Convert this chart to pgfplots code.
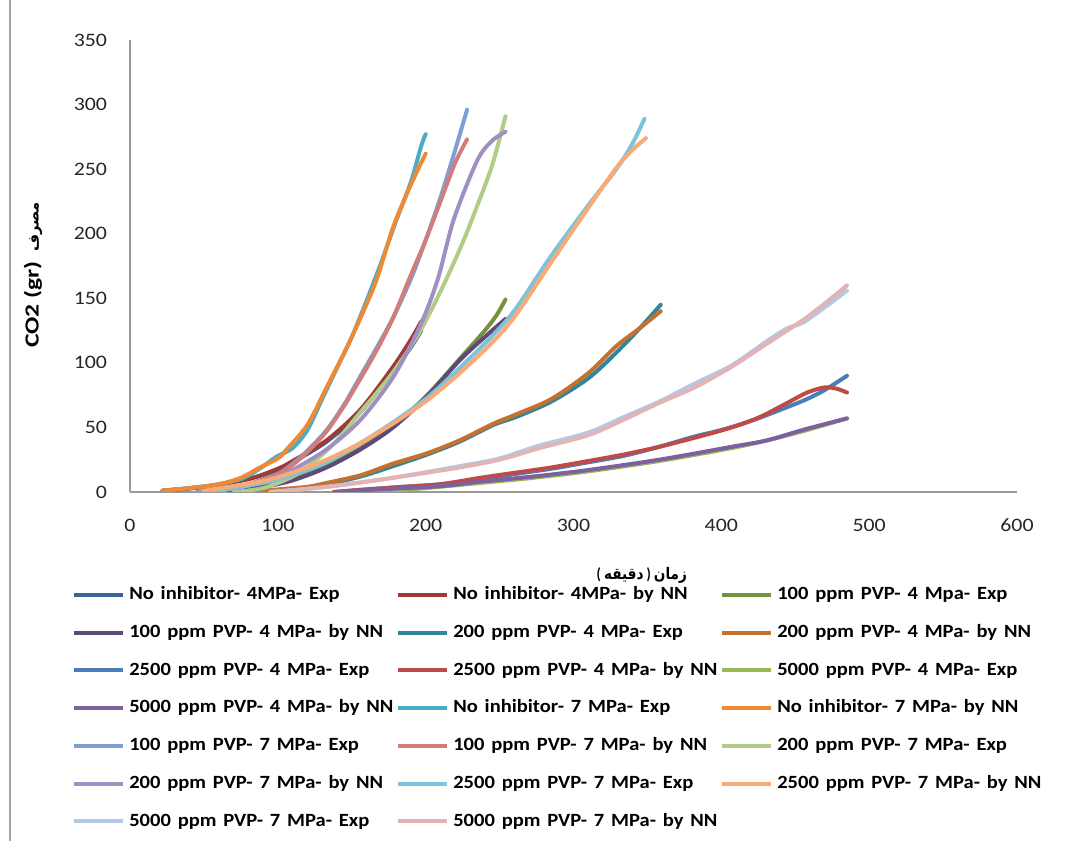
\documentclass[border=0pt]{standalone}
\usepackage{fontspec}
\usepackage{graphicx}
\usepackage{pgfplots}
\pgfplotsset{compat=1.18}
\TeXXeTstate=1
\setmainfont{Carlito}
\newfontfamily\arabicfont[Script=Arabic]{DejaVu Sans}
\newcommand\sx[1]{\scalebox{1.15}[1]{#1}}
\newcommand\lx[1]{\scalebox{1.1}[1]{#1}}
\newcommand\ar[1]{{\arabicfont\beginR #1\endR}}
\definecolor{c1}{HTML}{3A6498}
\definecolor{c2}{HTML}{9E3B38}
\definecolor{c3}{HTML}{76923C}
\definecolor{c4}{HTML}{5F497A}
\definecolor{c5}{HTML}{31859C}
\definecolor{c6}{HTML}{C4722E}
\definecolor{c7}{HTML}{4A7EBB}
\definecolor{c8}{HTML}{BE4B48}
\definecolor{c9}{HTML}{98B954}
\definecolor{c10}{HTML}{7D60A0}
\definecolor{c11}{HTML}{4BACC6}
\definecolor{c12}{HTML}{EE8A35}
\definecolor{c13}{HTML}{7E9FD0}
\definecolor{c14}{HTML}{D07D7B}
\definecolor{c15}{HTML}{B0CC86}
\definecolor{c16}{HTML}{A08FC2}
\definecolor{c17}{HTML}{7DC3D9}
\definecolor{c18}{HTML}{F9AA76}
\definecolor{c19}{HTML}{B4C7E4}
\definecolor{c20}{HTML}{E3B4B3}
\begin{document}
\begin{tikzpicture}
\useasboundingbox (0,0) rectangle (812.25pt,630.75pt);
\draw[black!35, line width=1pt] (7.5pt,0) -- (7.5pt,630.75pt);
\begin{axis}[
  scale only axis, width=665.25pt, height=339pt,
  at={(97.5pt,261.75pt)}, anchor=south west,
  xmin=0, xmax=600, ymin=0, ymax=350,
  axis x line*=bottom, axis y line*=left,
  axis line style={draw=black!40, line width=1pt},
  major tick length=0pt,
  xtick={0,100,200,300,400,500,600},
  xticklabels={\sx{0},\sx{100},\sx{200},\sx{300},\sx{400},\sx{500},\sx{600}},
  ytick={0,50,100,150,200,250,300,350},
  yticklabels={\sx{0},\sx{50},\sx{100},\sx{150},\sx{200},\sx{250},\sx{300},\sx{350}},
  tick label style={font=\fontsize{14.25}{16}\selectfont, text=black!85},
  xticklabel style={inner sep=0pt, yshift=-20pt},
  yticklabel style={inner sep=0pt, xshift=-17pt},
  xlabel={\scalebox{0.85}[1]{\bfseries\fontsize{12}{14}\selectfont ( \ar{دقیقه} ) \ar{زمان}}},
  xlabel style={at={(axis description cs:0.577,-0.185)}, anchor=center, inner sep=0pt},
  ylabel={\bfseries\fontsize{15}{18}\selectfont \scalebox{1.28}[1]{CO2 (gr)}\ \ {\fontsize{11}{13}\selectfont\ar{مصرف}}},
  ylabel style={at={(axis description cs:-0.1094,0.48)}, anchor=center},
  every axis plot/.append style={line width=3pt, smooth, line cap=round, line join=round},
  legend columns=3,
  legend cell align=left,
  legend style={at={(axis description cs:-0.0654,-0.2086)}, anchor=north west, draw=none, fill=none,
    inner sep=0pt, outer sep=0pt, font=\bfseries\fontsize{14}{16}\selectfont,
    row sep=15.3pt, column sep=0pt,
    nodes={text width=197pt, inner xsep=3pt, inner ysep=0pt, text height=10pt, text depth=3pt, anchor=west}},
  legend image code/.code={\draw[line width=3pt, line cap=butt] (0pt,0pt) -- (37pt,0pt);},
]
% S1 No inhibitor 4MPa Exp
\addplot[c1] coordinates {(22,1)(50,4)(80,10)(100,17)(110,23)(133,39)(156,62)(178,94)(190,112)(197,125)};
\addlegendentry{\lx{No inhibitor- 4MPa- Exp}}
% S2 No inhibitor 4MPa NN
\addplot[c2] coordinates {(22,1)(50,4)(80,10)(100,18)(110,24)(133,40)(156,64)(178,97)(190,118)(197,132)};
\addlegendentry{\lx{No inhibitor- 4MPa- by NN}}
% S3 100 ppm 4 Exp
\addplot[c3] coordinates {(65,0)(90,4)(110,10)(133,20)(156,34)(178,51)(201,75)(223,103)(240,125)(248,137)(254,149)};
\addlegendentry{\lx{100 ppm PVP- 4 Mpa- Exp}}
% S4 100 ppm 4 NN
\addplot[c4] coordinates {(60,0)(90,4)(110,9)(133,19)(156,33)(178,50)(201,74)(223,102)(240,120)(254,134)};
\addlegendentry{\lx{100 ppm PVP- 4 MPa- by NN}}
% S5 200 ppm 4 Exp
\addplot[c5] coordinates {(90,0)(110,2)(133,6)(156,12)(178,20)(201,29)(223,39)(246,52)(261,58)(285,70)(310,88)(329,108)(345,127)(359,145)};
\addlegendentry{\lx{200 ppm PVP- 4 MPa- Exp}}
% S6 200 ppm 4 NN
\addplot[c6] coordinates {(81,0)(100,2)(120,4)(133,7)(156,13)(178,22)(201,30)(223,40)(246,53)(261,60)(285,72)(310,92)(329,113)(345,127)(359,140)};
\addlegendentry{\lx{200 ppm PVP- 4 MPa- by NN}}
% S7 2500 ppm 4 Exp
\addplot[c7] coordinates {(138,0)(160,2)(185,4)(210,6)(237,10)(261,14)(285,18)(310,23)(334,28)(358,35)(382,43)(400,48)(420,55)(443,65)(458,72)(470,79)(485,90)};
\addlegendentry{\lx{2500 ppm PVP- 4 MPa- Exp}}
% S8 2500 ppm 4 NN
\addplot[c8] coordinates {(138,0)(160,2)(185,4)(210,6)(237,11)(261,15)(285,19)(310,24)(334,29)(358,35)(382,42)(407,50)(426,58)(443,68)(458,77)(470,81)(478,80)(485,77)};
\addlegendentry{\lx{2500 ppm PVP- 4 MPa- by NN}}
% S9 5000 ppm 4 Exp
\addplot[c9] coordinates {(150,0)(175,1)(200,3)(237,7)(273,11)(310,16)(358,24)(407,34)(431,40)(455,47)(485,57)};
\addlegendentry{\lx{5000 ppm PVP- 4 MPa- Exp}}
% S10 5000 ppm 4 NN
\addplot[c10] coordinates {(140,0)(160,1.5)(185,3)(210,4.5)(237,8)(273,12)(310,17)(358,25)(407,35)(431,40)(455,48)(485,57)};
\addlegendentry{\lx{5000 ppm PVP- 4 MPa- by NN}}
% S11 No inhibitor 7 Exp
\addplot[c11] coordinates {(22,1)(40,3)(60,6)(75,10)(85,16)(95,24)(100,28)(110,34)(120,48)(130,72)(140,96)(150,120)(160,148)(170,178)(180,210)(190,240)(197,268)(200,277)};
\addlegendentry{\lx{No inhibitor- 7 MPa- Exp}}
% S12 No inhibitor 7 NN
\addplot[c12] coordinates {(22,1)(40,3)(60,6)(75,11)(88,19)(100,26)(106,33)(120,52)(133,81)(145,108)(156,135)(167,165)(178,205)(190,238)(200,262)};
\addlegendentry{\lx{No inhibitor- 7 MPa- by NN}}
% S13 100 ppm 7 Exp
\addplot[c13] coordinates {(45,0)(60,2)(80,6)(100,14)(110,22)(120,32)(133,48)(145,68)(156,90)(167,112)(178,135)(190,165)(200,195)(210,228)(220,265)(228,296)};
\addlegendentry{\lx{100 ppm PVP- 7 MPa- Exp}}
% S14 100 ppm 7 NN
\addplot[c14] coordinates {(60,1)(80,6)(100,14)(110,21)(120,31)(133,47)(145,67)(156,88)(167,110)(178,135)(190,168)(200,195)(210,225)(220,255)(228,273)};
\addlegendentry{\lx{100 ppm PVP- 7 MPa- by NN}}
% S15 200 ppm 7 Exp
\addplot[c15] coordinates {(70,0)(90,3)(110,12)(125,24)(140,40)(156,62)(167,77)(180,96)(196,124)(212,160)(225,193)(235,222)(245,253)(254,291)};
\addlegendentry{\lx{200 ppm PVP- 7 MPa- Exp}}
% S16 200 ppm 7 NN
\addplot[c16] coordinates {(60,1)(80,5)(100,12)(110,17)(133,33)(156,56)(178,89)(196,128)(208,164)(219,211)(235,257)(245,272)(254,279)};
\addlegendentry{\lx{200 ppm PVP- 7 MPa- by NN}}
% S17 2500 ppm 7 Exp
\addplot[c17] coordinates {(55,0)(90,7)(110,13)(133,23)(156,38)(178,54)(201,73)(223,96)(246,122)(261,142)(285,183)(310,222)(329,250)(340,270)(348,289)};
\addlegendentry{\lx{2500 ppm PVP- 7 MPa- Exp}}
% S18 2500 ppm 7 NN
\addplot[c18] coordinates {(50,1)(88,8)(110,15)(133,25)(156,38)(178,53)(201,71)(223,92)(246,117)(261,137)(285,178)(310,220)(329,251)(340,265)(349,274)};
\addlegendentry{\lx{2500 ppm PVP- 7 MPa- by NN}}
% S19 5000 ppm 7 Exp
\addplot[c19] coordinates {(95,0)(133,4)(178,11)(223,20)(250,26)(277,36)(310,46)(334,58)(358,70)(382,84)(407,98)(431,117)(445,127)(455,131)(470,143)(485,156)};
\addlegendentry{\lx{5000 ppm PVP- 7 MPa- Exp}}
% S20 5000 ppm 7 NN
\addplot[c20] coordinates {(95,0)(133,4)(178,11)(223,19)(250,25)(277,34)(310,44)(334,56)(358,69)(382,81)(407,97)(431,115)(455,133)(470,146)(485,160)};
\addlegendentry{\lx{5000 ppm PVP- 7 MPa- by NN}}
\end{axis}
\end{tikzpicture}
\end{document}
